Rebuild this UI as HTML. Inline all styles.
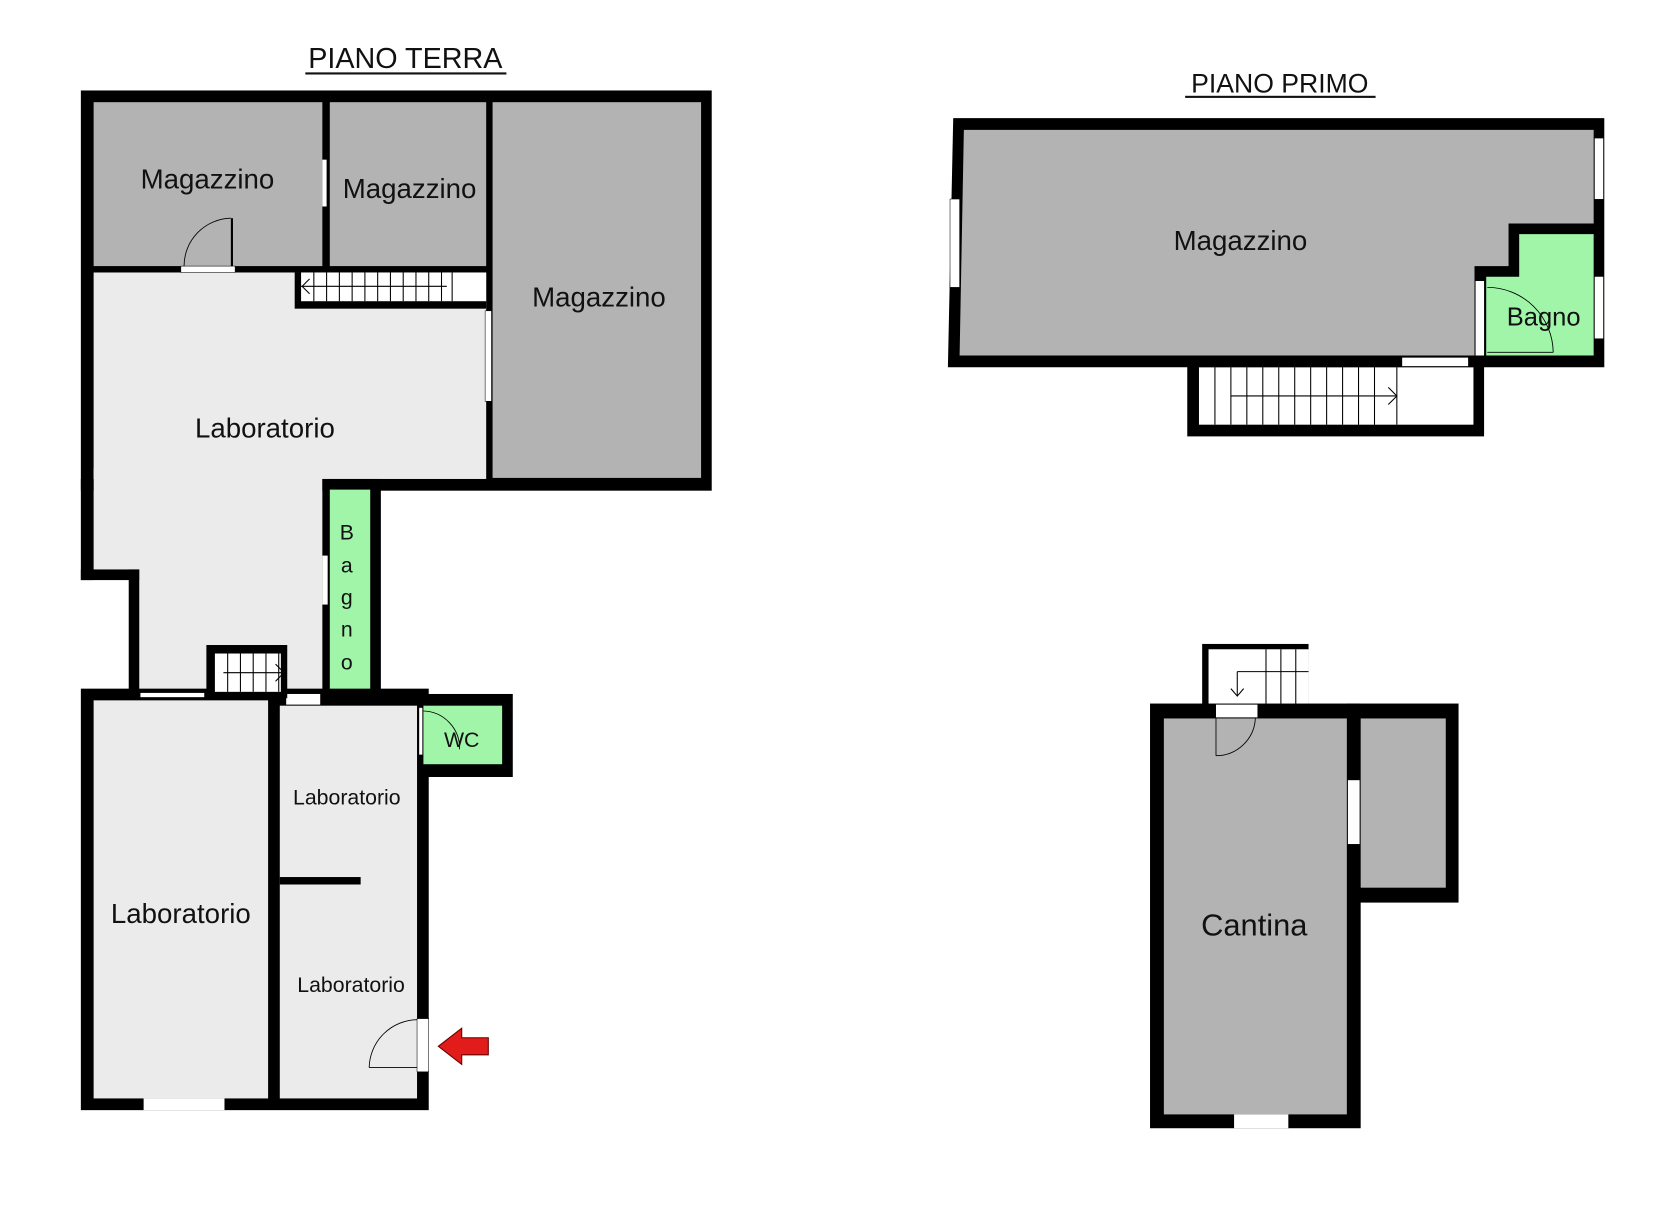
<!DOCTYPE html>
<html><head><style>html,body{margin:0;padding:0;background:#fff;overflow:hidden;width:1666px;height:1207px}svg{display:block}</style></head><body>
<svg width="1666" height="1207" viewBox="0 0 1566 1134" preserveAspectRatio="none" xmlns="http://www.w3.org/2000/svg" font-family="Liberation Sans, DejaVu Sans, sans-serif">
<rect width="1566" height="1134" fill="#fff"/>
<text x="381" y="64" font-size="27" text-anchor="middle" fill="#111">PIANO TERRA</text>
<rect x="287" y="68" width="189" height="2" fill="#111"/>
<rect x="76" y="85" width="593" height="376" fill="#000"/>
<rect x="88" y="96" width="215" height="154" fill="#b3b3b3"/>
<rect x="310" y="96" width="147" height="154" fill="#b3b3b3"/>
<rect x="463" y="96" width="196" height="353" fill="#b3b3b3"/>
<rect x="88" y="256" width="369" height="194" fill="#ebebeb"/>
<rect x="88" y="440" width="215" height="95" fill="#ebebeb"/>
<rect x="76" y="450" width="12" height="95" fill="#000"/>
<rect x="76" y="535" width="55" height="10" fill="#000"/>
<rect x="121" y="535" width="10" height="123" fill="#000"/>
<rect x="131" y="535" width="172" height="115" fill="#ebebeb"/>
<rect x="303" y="450" width="55" height="213" fill="#000"/>
<rect x="310" y="460" width="38" height="190" fill="#a0f5a8"/>
<rect x="277" y="256" width="180" height="34" fill="#000"/>
<rect x="283" y="256" width="174" height="27" fill="#fff"/>
<g stroke="#000" stroke-width="1">
<line x1="283" y1="269" x2="420" y2="269"/>
<line x1="295" y1="256" x2="295" y2="283"/><line x1="307" y1="256" x2="307" y2="283"/><line x1="319" y1="256" x2="319" y2="283"/><line x1="331" y1="256" x2="331" y2="283"/><line x1="343" y1="256" x2="343" y2="283"/><line x1="355" y1="256" x2="355" y2="283"/><line x1="367" y1="256" x2="367" y2="283"/><line x1="379" y1="256" x2="379" y2="283"/><line x1="391" y1="256" x2="391" y2="283"/><line x1="403" y1="256" x2="403" y2="283"/><line x1="415" y1="256" x2="415" y2="283"/><line x1="425" y1="256" x2="425" y2="283"/>
<polyline points="291,262 284,269 291,276" fill="none"/>
</g>
<rect x="303" y="150" width="4" height="44" fill="#fff"/>
<rect x="170" y="250" width="51" height="6" fill="#fff" stroke="#000" stroke-width="0.5"/>
<rect x="217" y="205" width="2" height="45" fill="#000"/>
<path d="M173,250 A45,45 0 0 1 217,205" fill="none" stroke="#000" stroke-width="0.8"/>
<rect x="456" y="292" width="6" height="85" fill="#fff" stroke="#000" stroke-width="0.5"/>
<rect x="303" y="522" width="5" height="46" fill="#fff"/>
<rect x="76" y="647" width="327" height="396" fill="#000"/>
<rect x="392" y="652" width="90" height="78" fill="#000"/>
<rect x="88" y="658" width="164" height="374" fill="#ebebeb"/>
<rect x="263" y="663" width="129" height="369" fill="#ebebeb"/>
<rect x="398" y="663" width="74" height="55" fill="#a0f5a8"/>
<rect x="263" y="824" width="76" height="7" fill="#000"/>
<rect x="135" y="1032" width="76" height="11" fill="#fff"/>
<rect x="132" y="651" width="60" height="4" fill="#fff"/>
<rect x="269" y="652" width="32" height="10" fill="#fff"/>
<rect x="194" y="606" width="76" height="50" fill="#000"/>
<rect x="202" y="614" width="62" height="36" fill="#fff"/>
<g stroke="#000" stroke-width="1">
<line x1="210" y1="632" x2="265" y2="632"/>
<line x1="214" y1="614" x2="214" y2="650"/><line x1="226" y1="614" x2="226" y2="650"/><line x1="238" y1="614" x2="238" y2="650"/><line x1="250" y1="614" x2="250" y2="650"/><line x1="262" y1="614" x2="262" y2="650"/>
<polyline points="259,624 267,632 259,640" fill="none"/>
</g>
<rect x="394" y="665" width="3" height="44" fill="#fff"/>
<path d="M398,668 A35,35 0 0 1 432,704" fill="none" stroke="#000" stroke-width="0.8"/>
<rect x="392" y="957" width="11" height="50" fill="#fff" stroke="#000" stroke-width="0.5"/>
<path d="M347,1003 A46,46 0 0 1 392,958" fill="none" stroke="#000" stroke-width="0.8"/>
<line x1="347" y1="1003" x2="392" y2="1003" stroke="#000" stroke-width="0.8"/>
<polygon points="412,983 434,966 434,975 459,975 459,991 434,991 434,1000" fill="#e21b1b" stroke="#600" stroke-width="1"/>
<text x="1203" y="87" font-size="25" text-anchor="middle" fill="#111">PIANO PRIMO</text>
<rect x="1114" y="90" width="179" height="2" fill="#111"/>
<rect x="1116" y="335" width="279" height="75" fill="#000"/>
<rect x="1127" y="345" width="258" height="54" fill="#fff"/>
<g stroke="#000" stroke-width="1">
<line x1="1157" y1="372" x2="1312" y2="372"/>
<line x1="1142" y1="345" x2="1142" y2="399"/><line x1="1157" y1="345" x2="1157" y2="399"/><line x1="1172" y1="345" x2="1172" y2="399"/><line x1="1187" y1="345" x2="1187" y2="399"/><line x1="1202" y1="345" x2="1202" y2="399"/><line x1="1217" y1="345" x2="1217" y2="399"/><line x1="1232" y1="345" x2="1232" y2="399"/><line x1="1247" y1="345" x2="1247" y2="399"/><line x1="1262" y1="345" x2="1262" y2="399"/><line x1="1277" y1="345" x2="1277" y2="399"/><line x1="1292" y1="345" x2="1292" y2="399"/><line x1="1313" y1="345" x2="1313" y2="399"/>
<polyline points="1305,364 1313,372 1305,380" fill="none"/>
</g>
<polygon points="896,111 1508,111 1508,345 891,345" fill="#000"/>
<polygon points="906,122 1498,122 1498,210 1418,210 1418,250 1386,250 1386,334 902,334" fill="#b3b3b3"/>
<polygon points="1428,220 1498,220 1498,334 1397,334 1397,260 1428,260" fill="#a0f5a8"/>
<rect x="893" y="187" width="9" height="83" fill="#fff" stroke="#000" stroke-width="0.5"/>
<rect x="1499" y="130" width="8" height="57" fill="#fff"/>
<rect x="1499" y="260" width="8" height="58" fill="#fff"/>
<rect x="1318" y="336" width="62" height="8" fill="#fff"/>
<rect x="1387" y="264" width="8" height="70" fill="#fff"/>
<path d="M1398,270 A62,62 0 0 1 1460,331" fill="none" stroke="#000" stroke-width="0.8"/>
<line x1="1398" y1="331" x2="1460" y2="331" stroke="#000" stroke-width="0.8"/>
<rect x="1130" y="605" width="100" height="60" fill="#000"/>
<rect x="1136" y="610" width="94" height="55" fill="#fff"/>
<g stroke="#000" stroke-width="1">
<line x1="1163" y1="631" x2="1230" y2="631"/><line x1="1163" y1="631" x2="1163" y2="654"/>
<line x1="1190" y1="610" x2="1190" y2="661"/><line x1="1204" y1="610" x2="1204" y2="661"/><line x1="1218" y1="610" x2="1218" y2="661"/>
<polyline points="1157,647 1163,654 1169,647" fill="none"/>
</g>
<rect x="1081" y="661" width="198" height="399" fill="#000"/>
<rect x="1266" y="661" width="105" height="187" fill="#000"/>
<rect x="1094" y="675" width="172" height="372" fill="#b3b3b3"/>
<rect x="1279" y="675" width="80" height="159" fill="#b3b3b3"/>
<rect x="1267" y="733" width="11" height="60" fill="#fff"/>
<rect x="1143" y="662" width="39" height="12" fill="#fff"/>
<rect x="1160" y="1047" width="51" height="13" fill="#fff"/>
<path d="M1143,710 A37,37 0 0 0 1180,675" fill="none" stroke="#000" stroke-width="0.8"/>
<line x1="1143" y1="675" x2="1143" y2="710" stroke="#000" stroke-width="0.8"/>
<g fill="#111" font-size="26" text-anchor="middle">
<text x="195" y="177">Magazzino</text>
<text x="385" y="186">Magazzino</text>
<text x="563" y="288">Magazzino</text>
<text x="249" y="411">Laboratorio</text>
<text x="170" y="867">Laboratorio</text>
<text x="1166" y="235">Magazzino</text>
<text x="1179" y="879" font-size="29">Cantina</text>
</g>
<g fill="#111" font-size="20" text-anchor="middle">
<text x="326" y="756">Laboratorio</text>
<text x="330" y="932">Laboratorio</text>
<text x="434" y="702">WC</text>
<text x="326" y="507">B</text><text x="326" y="538">a</text><text x="326" y="568">g</text><text x="326" y="598">n</text><text x="326" y="629">o</text>
<text x="1451" y="306" font-size="24">Bagno</text>
</g>
</svg>
</body></html>
